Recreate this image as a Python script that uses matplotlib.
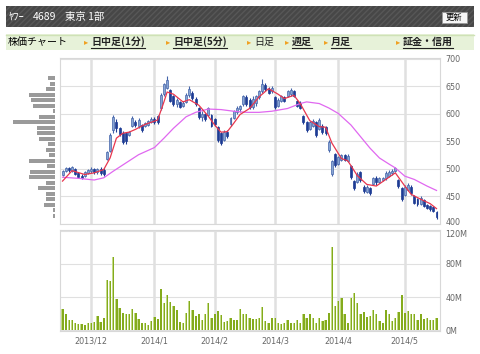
import numpy as np
import pandas as pd
import matplotlib.pyplot as plt
import matplotlib.transforms as mtransforms
from matplotlib.patches import Rectangle
from matplotlib.lines import Line2D

plt.rcParams['font.family'] = ['DejaVu Sans']
JP = ['Noto Sans CJK JP', 'DejaVu Sans']

# trading days (Tokyo), 2013/11/19 - 2014/5/19
holidays = ['2013-12-23', '2013-12-31', '2014-01-01', '2014-01-02', '2014-01-03',
            '2014-01-13', '2014-02-11', '2014-03-21', '2014-04-29', '2014-05-05', '2014-05-06']
days = pd.bdate_range('2013-11-19', '2014-05-19')
days = days[~days.isin(pd.to_datetime(holidays))]

opens = [489, 496, 502, 497, 500, 492, 488, 488, 492, 497,
         500, 494, 500, 498, 518, 533, 570, 585, 575, 566,
         565, 562, 578, 586, 578, 580, 578, 580, 585, 590,
         596, 611, 636, 648, 643, 633, 618, 621, 614, 622,
         634, 638, 628, 610, 595, 600, 599, 598, 590, 577,
         566, 553, 568, 581, 593, 603, 609, 618, 631, 626,
         612, 620, 630, 642, 652, 646, 641, 630, 614, 623,
         630, 632, 636, 642, 624, 620, 597, 585, 572, 579,
         585, 572, 579, 576, 535, 491, 527, 509, 516, 525,
         515, 506, 478, 476, 494, 468, 459, 465, 473, 483,
         476, 480, 483, 488, 492, 496, 480, 466, 452, 462,
         468, 450, 446, 437, 444, 435, 433, 430, 422]
closes = [497, 501, 498, 503, 491, 486, 484, 494, 498, 500,
          494, 500, 493, 491, 530, 562, 595, 574, 563, 549,
          550, 567, 593, 580, 589, 571, 583, 587, 591, 586,
          585, 635, 654, 662, 624, 618, 626, 613, 620, 635,
          645, 629, 618, 594, 600, 591, 610, 579, 582, 553,
          548, 568, 560, 592, 605, 611, 614, 632, 618, 612,
          628, 632, 641, 655, 645, 639, 647, 612, 626, 632,
          624, 641, 643, 633, 615, 611, 585, 570, 585, 587,
          562, 589, 568, 565, 549, 514, 508, 521, 525, 516,
          524, 485, 465, 491, 480, 460, 467, 456, 483, 476,
          483, 484, 493, 495, 497, 501, 469, 445, 467, 471,
          456, 439, 436, 447, 433, 429, 427, 424, 412]
highs = [499, 503, 504, 505, 501, 494, 490, 496, 500, 503,
         502, 501, 503, 501, 533, 565, 599, 590, 577, 569,
         567, 569, 596, 589, 592, 582, 585, 589, 594, 594,
         599, 638, 657, 669, 645, 635, 629, 623, 623, 638,
         651, 641, 630, 612, 605, 602, 612, 600, 593, 579,
         568, 571, 570, 594, 608, 614, 617, 635, 634, 629,
         632, 635, 644, 664, 656, 649, 650, 632, 629, 635,
         632, 644, 647, 644, 626, 623, 599, 587, 588, 590,
         587, 593, 581, 578, 552, 517, 529, 524, 528, 528,
         527, 508, 480, 494, 496, 470, 470, 467, 485, 488,
         485, 486, 496, 498, 500, 504, 482, 468, 470, 474,
         470, 452, 448, 450, 446, 437, 435, 432, 424]
lows = [487, 494, 495, 494, 489, 484, 482, 486, 490, 492,
        490, 491, 489, 488, 516, 530, 566, 568, 560, 546,
        546, 560, 576, 576, 574, 568, 576, 578, 583, 582,
        582, 608, 633, 645, 621, 615, 612, 610, 612, 620,
        630, 626, 615, 591, 588, 588, 597, 576, 579, 549,
        543, 551, 556, 579, 591, 600, 604, 615, 615, 609,
        609, 615, 627, 639, 642, 636, 639, 609, 612, 621,
        621, 630, 633, 630, 612, 609, 582, 567, 570, 576,
        558, 570, 564, 561, 531, 488, 504, 507, 514, 514,
        513, 482, 462, 474, 476, 457, 457, 453, 471, 471,
        474, 478, 480, 486, 489, 494, 466, 441, 450, 460,
        453, 436, 432, 435, 430, 427, 424, 421, 409]
volume = [26, 19, 12, 12, 9, 7.6, 6.8, 5.6, 9, 8,
          10, 17, 10, 14, 61, 60, 89, 38, 27, 21,
          20, 19, 26, 21, 13, 9, 8, 6, 11, 16,
          13, 50, 33, 43, 34, 29, 24, 10, 9, 21,
          35, 24, 17, 20, 12, 19, 33, 15, 20, 23,
          18, 10, 11, 15, 12, 12, 25, 20, 19, 15,
          13, 13, 15, 28, 11, 8, 14, 14, 9, 7,
          9, 12, 8, 8, 12, 8, 19, 14, 20, 15,
          9, 15, 11, 12, 21, 101, 29, 35, 39, 19,
          9, 39, 45, 33, 19, 22, 16, 17, 24, 20,
          11, 9, 24, 20, 11, 15, 22, 43, 21, 23,
          19, 19, 12, 20, 13, 14, 12, 12, 15]

# moving averages, read at points along the lines
ma_short_idx = [0, 3, 7, 10, 13, 15, 17, 19, 21, 23, 26, 30, 32, 33, 35, 38, 40, 43, 46, 48,
                50, 52, 54, 56, 59, 62, 65, 68, 70, 73, 75, 78, 81, 83, 85, 88, 90, 93, 96,
                99, 102, 105, 108, 110, 113, 116, 118]
ma_short = [478, 497, 490, 493, 499, 520, 556, 565, 567, 572, 581, 589, 622, 640, 636, 622,
            626, 616, 596, 580, 567, 568, 583, 599, 610, 631, 646, 636, 628, 634, 619, 588,
            577, 576, 547, 519, 515, 488, 472, 469, 481, 493, 469, 454, 445, 437, 428]
ma_long_idx = [0, 5, 10, 13, 16, 20, 24, 29, 32, 35, 39, 42, 46, 50, 54, 58, 62, 66, 71, 75,
               77, 81, 84, 87, 91, 94, 97, 100, 103, 105, 108, 111, 115, 118]
ma_long = [485, 483, 480, 484, 496, 511, 526, 539, 556, 574, 595, 603, 609, 608, 605, 603,
           603, 605, 610, 619, 622, 619, 611, 601, 580, 559, 538, 520, 509, 502, 487, 481,
           469, 461]

# volume by price (10 yen bins)
vbp_price = np.arange(415, 670, 10)
vbp_qty = [7, 7, 33, 28, 27, 50, 27, 77, 75, 25, 77, 17, 28, 20, 47, 55, 53, 125, 47, 7,
           67, 73, 77, 28, 15, 20]

x = np.arange(len(days))
months = days.to_period('M')
mstart = [i for i in range(1, len(days)) if months[i] != months[i - 1]]
mlabels = [f"{days[i].year}/{days[i].month}" for i in mstart]

W, H = 480, 354
fig = plt.figure(figsize=(4.8, 3.54), dpi=100)


def box(x0, y0, x1, y1):
    return [x0 / W, 1 - y1 / H, (x1 - x0) / W, (y1 - y0) / H]


# header bar
fig.patches.append(Rectangle((6 / W, 1 - 27 / H), 468 / W, 21 / H, transform=fig.transFigure,
                             facecolor='#474747', edgecolor='#575757', lw=0, hatch='//////'))
fig.text(9 / W, 1 - 17 / H, 'ﾔﾌｰ', color='white', fontsize=7.5, family=JP, va='center')
fig.text(33 / W, 1 - 17 / H, '4689', color='white', fontsize=7.5, family=JP, va='center')
fig.text(65 / W, 1 - 17 / H, '東京 1部', color='white', fontsize=7.5, family=JP, va='center')
fig.patches.append(Rectangle((442 / W, 1 - 23 / H), 25 / W, 11 / H, transform=fig.transFigure,
                             facecolor='#f6f6f6', edgecolor='#999999', lw=0.6))
fig.text(454.5 / W, 1 - 17.5 / H, '更新', fontsize=6, family=JP, ha='center', va='center')

# nav bar
fig.patches.append(Rectangle((6 / W, 1 - 50 / H), 468 / W, 16 / H, transform=fig.transFigure,
                             facecolor='#e7f2d9', edgecolor='none'))
fig.lines.append(Line2D([6 / W, 474 / W], [1 - 34.5 / H] * 2, transform=fig.transFigure,
                        color='#cfe2b6', lw=1))
fig.text(8 / W, 1 - 42 / H, '株価チャート', fontsize=7.2, family=JP, va='center')
nav = [(84, '日中足(1分)', True), (166, '日中足(5分)', True), (247, '日足', False),
       (285, '週足', True), (324, '月足', True), (396, '証金・信用', True)]
renderer = fig.canvas.get_renderer()
for px, label, link in nav:
    fig.text(px / W, 1 - 42 / H, '▸', color='#f0a020', fontsize=6, family=JP, va='center')
    t = fig.text((px + 7) / W, 1 - 42 / H, label, fontsize=7.2, family=JP, va='center',
                 weight='bold' if link else 'normal', color='#222222')
    if link:
        bb = t.get_window_extent(renderer=renderer)
        fig.lines.append(Line2D([bb.x0 / W, bb.x1 / W], [1 - 48 / H] * 2,
                                transform=fig.transFigure, color='#222222', lw=0.8))

grid_c = '#e0e0e0'
tick_c = '#666666'

# price chart
ax = fig.add_axes(box(60, 58, 440, 224))
ax.set_xlim(-0.8, 119.1)
ax.set_ylim(400, 701.8)
up = np.array(closes) >= np.array(opens)
for i in x:
    if up[i]:
        fc, ec = '#88a5d4', '#4565aa'
    else:
        fc, ec = '#1e3c94', '#1e3c94'
    ax.vlines(i, lows[i], highs[i], color=ec, lw=0.8, zorder=3)
    lo, hi = sorted([opens[i], closes[i]])
    ax.bar(i, max(hi - lo, 1), bottom=lo, width=0.62, color=fc, edgecolor=ec, lw=0.5, zorder=4)
ax.plot(ma_long_idx, ma_long, color='#e068f0', lw=0.9, zorder=5)
ax.plot(ma_short_idx, ma_short, color='#e8364e', lw=0.9, zorder=5)
ax.set_yticks(range(400, 701, 50))
ax.set_xticks(mstart)
ax.set_xticklabels([])
ax.yaxis.tick_right()
ax.tick_params(length=0, labelsize=5.8, labelcolor=tick_c, pad=4)
ax.grid(axis='y', color=grid_c, lw=0.8)
ax.grid(axis='x', color=grid_c, lw=1.8)
ax.set_axisbelow(True)
for s in ax.spines.values():
    s.set_color('#d8d8d8')
    s.set_linewidth(0.8)

# volume by price
axh = fig.add_axes(box(10, 58, 55, 224))
axh.barh(vbp_price, vbp_qty, height=7, color='#9a9a9a')
axh.set_xlim(135, 0)
axh.set_ylim(400, 701.8)
axh.axis('off')

# volume
axv = fig.add_axes(box(60, 230, 440, 331))
axv.bar(x, volume, width=0.7, color='#c3da86', zorder=3)
axv.bar(x + 0.12, volume, width=0.46, color='#84ab1c', zorder=4)
axv.set_xlim(-0.8, 119.1)
axv.set_ylim(-1.2, 121.2)
axv.set_yticks([0, 40, 80, 120])
axv.set_yticklabels(['0M', '40M', '80M', '120M'])
axv.set_xticks(mstart)
axv.set_xticklabels(mlabels)
axv.yaxis.tick_right()
axv.tick_params(length=0, labelsize=5.8, labelcolor=tick_c, pad=4)
axv.grid(axis='y', color=grid_c, lw=0.8)
axv.grid(axis='x', color=grid_c, lw=1.8)
axv.set_axisbelow(True)
for s in axv.spines.values():
    s.set_color('#d8d8d8')
    s.set_linewidth(0.8)

# "400" and "120M" sit close together at the join; nudge them apart a little
lab400 = ax.get_yticklabels()[0]
lab400.set_transform(lab400.get_transform() + mtransforms.ScaledTranslation(0, 2 / 72, fig.dpi_scale_trans))
lab120 = axv.get_yticklabels()[-1]
lab120.set_transform(lab120.get_transform() + mtransforms.ScaledTranslation(0, -2 / 72, fig.dpi_scale_trans))

fig.savefig('out.png', dpi=100)
